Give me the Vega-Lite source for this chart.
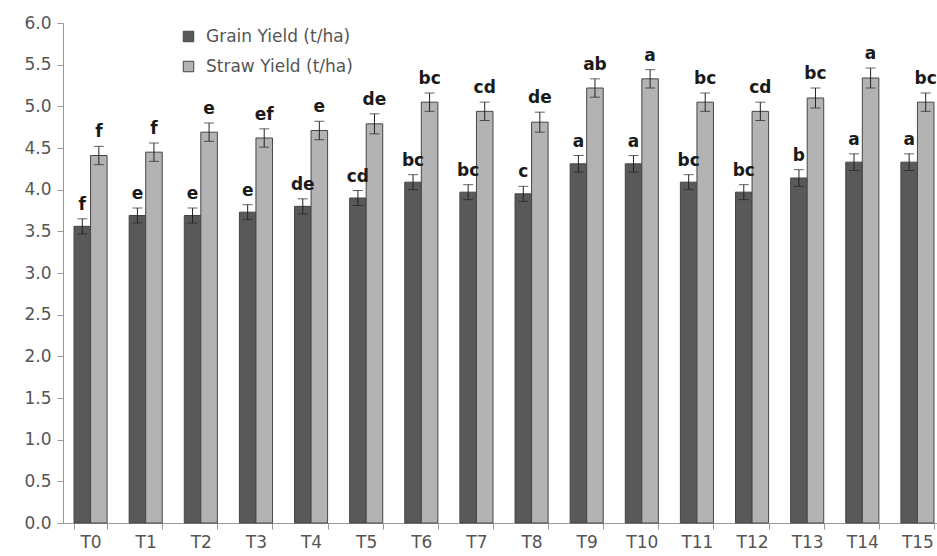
{
  "$schema": "https://vega.github.io/schema/vega-lite/v6.json",
  "autosize": {"type": "none"},
  "padding": {"left": 63, "top": 23, "right": 0, "bottom": 33},
  "width": 882,
  "height": 500,
  "background": "white",
  "config": {
    "view": {"stroke": null},
    "font": "DejaVu Sans",
    "axis": {"labelFont": "DejaVu Sans", "labelColor": "#555555", "labelFontSize": 17, "domainColor": "#9a9a9a", "tickColor": "#9a9a9a", "grid": false, "title": null}
  },
  "data": {
    "values": [
      {"t": "T0", "s": "Grain Yield (t/ha)", "v": 3.56, "e": 0.09, "l": "f"},
      {"t": "T0", "s": "Straw Yield (t/ha)", "v": 4.41, "e": 0.11, "l": "f"},
      {"t": "T1", "s": "Grain Yield (t/ha)", "v": 3.69, "e": 0.09, "l": "e"},
      {"t": "T1", "s": "Straw Yield (t/ha)", "v": 4.45, "e": 0.11, "l": "f"},
      {"t": "T2", "s": "Grain Yield (t/ha)", "v": 3.69, "e": 0.09, "l": "e"},
      {"t": "T2", "s": "Straw Yield (t/ha)", "v": 4.69, "e": 0.11, "l": "e"},
      {"t": "T3", "s": "Grain Yield (t/ha)", "v": 3.73, "e": 0.09, "l": "e"},
      {"t": "T3", "s": "Straw Yield (t/ha)", "v": 4.62, "e": 0.11, "l": "ef"},
      {"t": "T4", "s": "Grain Yield (t/ha)", "v": 3.80, "e": 0.09, "l": "de"},
      {"t": "T4", "s": "Straw Yield (t/ha)", "v": 4.71, "e": 0.11, "l": "e"},
      {"t": "T5", "s": "Grain Yield (t/ha)", "v": 3.90, "e": 0.09, "l": "cd"},
      {"t": "T5", "s": "Straw Yield (t/ha)", "v": 4.79, "e": 0.12, "l": "de"},
      {"t": "T6", "s": "Grain Yield (t/ha)", "v": 4.09, "e": 0.09, "l": "bc"},
      {"t": "T6", "s": "Straw Yield (t/ha)", "v": 5.05, "e": 0.11, "l": "bc"},
      {"t": "T7", "s": "Grain Yield (t/ha)", "v": 3.97, "e": 0.09, "l": "bc"},
      {"t": "T7", "s": "Straw Yield (t/ha)", "v": 4.94, "e": 0.11, "l": "cd"},
      {"t": "T8", "s": "Grain Yield (t/ha)", "v": 3.95, "e": 0.09, "l": "c"},
      {"t": "T8", "s": "Straw Yield (t/ha)", "v": 4.81, "e": 0.12, "l": "de"},
      {"t": "T9", "s": "Grain Yield (t/ha)", "v": 4.31, "e": 0.10, "l": "a"},
      {"t": "T9", "s": "Straw Yield (t/ha)", "v": 5.22, "e": 0.11, "l": "ab"},
      {"t": "T10", "s": "Grain Yield (t/ha)", "v": 4.31, "e": 0.10, "l": "a"},
      {"t": "T10", "s": "Straw Yield (t/ha)", "v": 5.33, "e": 0.11, "l": "a"},
      {"t": "T11", "s": "Grain Yield (t/ha)", "v": 4.09, "e": 0.09, "l": "bc"},
      {"t": "T11", "s": "Straw Yield (t/ha)", "v": 5.05, "e": 0.11, "l": "bc"},
      {"t": "T12", "s": "Grain Yield (t/ha)", "v": 3.97, "e": 0.09, "l": "bc"},
      {"t": "T12", "s": "Straw Yield (t/ha)", "v": 4.94, "e": 0.11, "l": "cd"},
      {"t": "T13", "s": "Grain Yield (t/ha)", "v": 4.14, "e": 0.10, "l": "b"},
      {"t": "T13", "s": "Straw Yield (t/ha)", "v": 5.10, "e": 0.12, "l": "bc"},
      {"t": "T14", "s": "Grain Yield (t/ha)", "v": 4.33, "e": 0.10, "l": "a"},
      {"t": "T14", "s": "Straw Yield (t/ha)", "v": 5.34, "e": 0.12, "l": "a"},
      {"t": "T15", "s": "Grain Yield (t/ha)", "v": 4.33, "e": 0.10, "l": "a"},
      {"t": "T15", "s": "Straw Yield (t/ha)", "v": 5.05, "e": 0.11, "l": "bc"}
    ]
  },
  "transform": [
    {"calculate": "datum.v - datum.e", "as": "lo"},
    {"calculate": "datum.v + datum.e", "as": "hi"}
  ],
  "encoding": {
    "x": {
      "field": "t", "type": "nominal", "sort": null,
      "scale": {"paddingInner": 0.4, "paddingOuter": 0.2},
      "axis": {"labelAngle": 0, "tickBand": "extent", "tickSize": 6, "labelPadding": 5}
    },
    "xOffset": {"field": "s", "type": "nominal"}
  },
  "layer": [
    {
      "mark": {"type": "bar", "stroke": "#454545", "strokeWidth": 1},
      "encoding": {
        "y": {
          "field": "v", "type": "quantitative",
          "scale": {"domain": [0, 6], "nice": false},
          "axis": {"values": [0, 0.5, 1, 1.5, 2, 2.5, 3, 3.5, 4, 4.5, 5, 5.5, 6], "format": ".1f", "tickSize": 6, "labelPadding": 6}
        },
        "fill": {
          "field": "s", "type": "nominal",
          "scale": {"range": ["#595959", "#b3b3b3"]},
          "legend": {
            "orient": "none", "legendX": 117, "legendY": 5,
            "title": null, "symbolType": "square", "symbolSize": 110,
            "symbolStrokeColor": "#454545", "symbolStrokeWidth": 1,
            "labelFontSize": 17, "labelColor": "#555555", "labelFont": "DejaVu Sans",
            "rowPadding": 12, "labelOffset": 9
          }
        }
      }
    },
    {
      "mark": {"type": "rule", "color": "#222222", "strokeWidth": 1},
      "encoding": {"y": {"field": "lo", "type": "quantitative"}, "y2": {"field": "hi"}}
    },
    {
      "mark": {"type": "tick", "orient": "horizontal", "color": "#222222", "thickness": 1, "size": 10},
      "encoding": {"y": {"field": "hi", "type": "quantitative"}}
    },
    {
      "mark": {"type": "tick", "orient": "horizontal", "color": "#222222", "thickness": 1, "size": 10},
      "encoding": {"y": {"field": "lo", "type": "quantitative"}}
    },
    {
      "mark": {"type": "text", "baseline": "bottom", "dy": -5, "fontSize": 17, "fontWeight": "bold", "color": "#1a1a1a", "font": "DejaVu Sans"},
      "encoding": {"y": {"field": "hi", "type": "quantitative"}, "text": {"field": "l"}}
    }
  ]
}
